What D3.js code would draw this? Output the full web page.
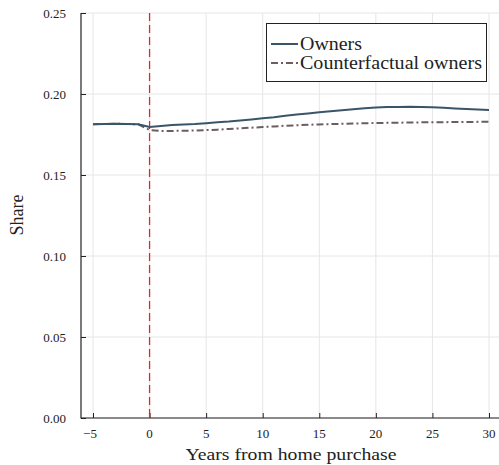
<!DOCTYPE html>
<html><head><meta charset="utf-8">
<script src="https://cdn.jsdelivr.net/npm/d3@7"></script>
<style>body{margin:0;background:#fff}svg{display:block}text{font-family:"Liberation Serif","DejaVu Serif",serif;fill:#222}</style>
</head><body>
<script>
const years = d3.range(-5, 31);
const owners = [0.1814,0.1815,0.1816,0.1815,0.1813,0.1797,0.1803,0.1808,0.1812,0.1815,0.1820,0.1826,0.1830,0.1836,0.1843,0.1850,0.1857,0.1866,0.1873,0.1880,0.1888,0.1893,0.1899,0.1906,0.1912,0.1916,0.1919,0.1920,0.1921,0.1919,0.1918,0.1915,0.1911,0.1908,0.1905,0.1902];
const counterfactual = [0.1814,0.1815,0.1816,0.1815,0.1813,0.1778,0.1772,0.1772,0.1773,0.1775,0.1777,0.1780,0.1784,0.1788,0.1792,0.1796,0.1800,0.1804,0.1807,0.1810,0.1812,0.1814,0.1816,0.1818,0.1819,0.1821,0.1822,0.1823,0.1824,0.1825,0.1826,0.1826,0.1827,0.1827,0.1828,0.1828];
const xTicks = [-5,0,5,10,15,20,25,30];
const yTicks = [0,0.05,0.10,0.15,0.20,0.25];
const seriesNames = ["Owners","Counterfactual owners"];

const W=499,H=465;
const svg=d3.select("body").append("svg").attr("width",W).attr("height",H);
const x=d3.scaleLinear().domain([-5,30]).range([93,489]);
const y=d3.scaleLinear().domain([0,0.25]).range([418,13]);
const x0=81, xEnd=W;

// grid
svg.append("g").selectAll("line").data(xTicks).join("line")
  .attr("x1",d=>x(d)).attr("x2",d=>x(d)).attr("y1",13).attr("y2",418)
  .attr("stroke","#e6e6e6").attr("stroke-width",1);
svg.append("g").selectAll("line").data(yTicks).join("line")
  .attr("x1",x0).attr("x2",xEnd).attr("y1",d=>y(d)).attr("y2",d=>y(d))
  .attr("stroke","#e6e6e6").attr("stroke-width",1);

// axes
const fmtY=d3.format(".2f");
const fmtX=d=>d<0?"\u2212"+Math.abs(d):String(d);
const ya=svg.append("g").attr("transform",`translate(${x0},0)`)
  .call(d3.axisRight(y).tickValues(yTicks).tickSize(5).tickFormat(""));
ya.select(".domain").remove();
ya.selectAll("line").attr("stroke","#222");
svg.append("g").selectAll("text").data(yTicks).join("text")
  .attr("x",66).attr("y",d=>y(d)+4.5).attr("text-anchor","end").attr("font-size",13).text(fmtY);
const xa=svg.append("g").attr("transform",`translate(0,418)`)
  .call(d3.axisTop(x).tickValues(xTicks).tickSize(5).tickFormat(""));
xa.select(".domain").remove();
xa.selectAll("line").attr("stroke","#222");
svg.append("g").selectAll("text").data(xTicks).join("text")
  .attr("x",d=>x(d)-(d<0?3:0)).attr("y",438).attr("text-anchor","middle").attr("font-size",13).text(fmtX);
svg.append("line").attr("x1",x0).attr("x2",x0).attr("y1",13).attr("y2",418.5).attr("stroke","#222").attr("stroke-width",1.2);
svg.append("line").attr("x1",x0).attr("x2",xEnd).attr("y1",418).attr("y2",418).attr("stroke","#222").attr("stroke-width",1.2);

// vline
svg.append("line").attr("x1",x(0)).attr("x2",x(0)).attr("y1",13).attr("y2",418)
  .attr("stroke","#e3242b").attr("stroke-width",1.3).attr("stroke-dasharray","8,4");

const line=d3.line().x((d,i)=>x(years[i])).y(d=>y(d));
svg.append("path").datum(counterfactual).attr("d",line).attr("fill","none")
  .attr("stroke","#6a5e5e").attr("stroke-width",2).attr("stroke-dasharray","7,3,2,3");
svg.append("path").datum(owners).attr("d",line).attr("fill","none")
  .attr("stroke","#3a5567").attr("stroke-width",2);

// labels
svg.append("text").attr("x",291).attr("y",460).attr("text-anchor","middle").attr("font-size",17.5)
  .attr("textLength",211).attr("lengthAdjust","spacingAndGlyphs").text("Years from home purchase");
svg.append("text").attr("transform","translate(23,215) rotate(-90)").attr("text-anchor","middle").attr("font-size",18).text("Share");

// legend
const lg=svg.append("g");
lg.append("rect").attr("x",266.5).attr("y",23.5).attr("width",220).attr("height",58).attr("fill","#fff").attr("stroke","#222").attr("stroke-width",1);
const styles=[{c:"#3a5567",d:null},{c:"#6a5e5e",d:"7,3,2,3"}];
seriesNames.forEach((n,i)=>{
  const yy=44+i*19;
  lg.append("line").attr("x1",271).attr("x2",298).attr("y1",yy).attr("y2",yy)
    .attr("stroke",styles[i].c).attr("stroke-width",2).attr("stroke-dasharray",styles[i].d);
  const t=lg.append("text").attr("x",300).attr("y",yy+5.5).attr("font-size",18).text(n);
  t.attr("textLength",i==0?62:182).attr("lengthAdjust","spacingAndGlyphs");
});
</script>
</body></html>
